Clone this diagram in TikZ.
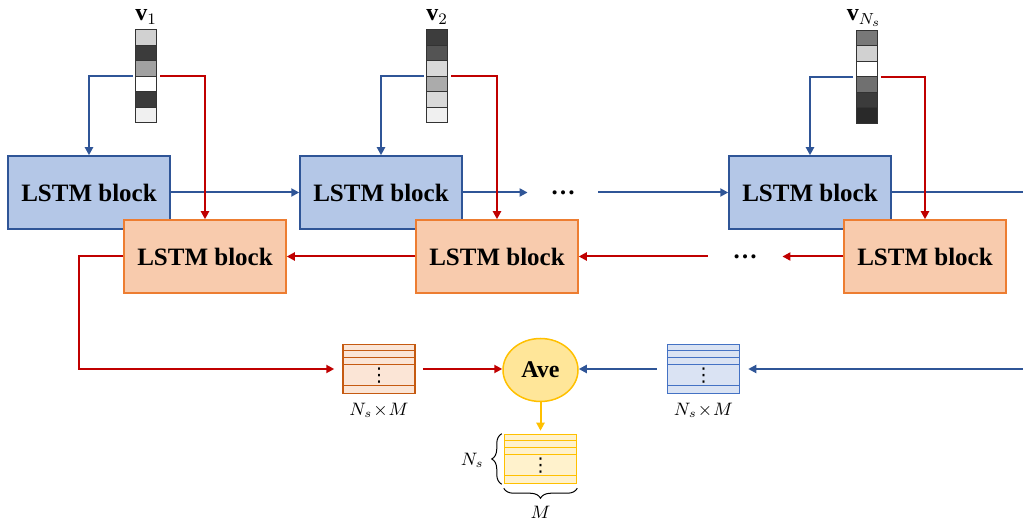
\documentclass[tikz,border=0pt]{standalone}
\usepackage{fontspec}
\setmainfont{Liberation Serif}
\newfontfamily\dejavu{DejaVu Sans}
\usetikzlibrary{arrows.meta,calc,shapes.geometric,decorations.pathreplacing}

\definecolor{bfill}{HTML}{B4C7E7}
\definecolor{bdraw}{HTML}{2F5597}
\definecolor{ofill}{HTML}{F8CBAD}
\definecolor{odraw}{HTML}{ED7D31}
\definecolor{redar}{HTML}{C00000}
\definecolor{mofill}{HTML}{FBE5D6}
\definecolor{modraw}{HTML}{C55A11}
\definecolor{mbfill}{HTML}{DAE3F3}
\definecolor{mbdraw}{HTML}{4472C4}
\definecolor{yfill}{HTML}{FFE699}
\definecolor{ydraw}{HTML}{FFC000}
\definecolor{myfill}{HTML}{FFF2CC}

\begin{document}
\begin{tikzpicture}[x=0.5pt,y=-0.5pt,
 lstm/.style={rectangle, minimum width=81pt, minimum height=36.5pt, inner sep=0pt, line width=0.75pt, font=\fontsize{12.5}{15}\selectfont\bfseries},
 lstmb/.style={lstm, fill=bfill, draw=bdraw},
 lstmo/.style={lstm, fill=ofill, draw=odraw},
 tip/.style={-{Triangle[length=4pt,width=4pt]}},
 barr/.style={draw=bdraw, line width=1pt},
 rarr/.style={draw=redar, line width=1pt},
 yarr/.style={draw=ydraw, line width=1pt},
 vec/.style={rectangle, minimum width=10.5pt, minimum height=46.5pt, inner sep=0pt},
 cell/.style={draw=black!80, line width=0.5pt},
 mat/.style={rectangle, minimum width=36pt, minimum height=24.5pt, inner sep=0pt, line width=0.75pt},
 vdot/.style={inner sep=0pt, font=\dejavu\fontsize{9.5}{10}\selectfont},
 dotsnode/.style={font=\fontsize{12.5}{15}\selectfont\bfseries, inner ysep=0pt},
 lab/.style={font=\fontsize{9}{11}\selectfont, inner sep=0pt},
 vlab/.style={font=\fontsize{12}{14}\selectfont, inner sep=0pt, anchor=base},
 brc/.style={decorate, line width=0.5pt, draw=black},
]
\useasboundingbox (0,0) rectangle (1023,523);

% input vectors
\node[vec] (v1) at (146.5,76.5) {};
\node[vec] (v2) at (437.5,76.5) {};
\node[vec] (v3) at (867,77) {};
\foreach \g [count=\i from 0] in {18,77,37,0,77,6}
  \draw[cell, fill=black!\g] ($(v1.north west)+(0,\i*15.5)$) rectangle ++(21,15.5);
\foreach \g [count=\i from 0] in {76,67,15,33,15,6}
  \draw[cell, fill=black!\g] ($(v2.north west)+(0,\i*15.5)$) rectangle ++(21,15.5);
\foreach \g [count=\i from 0] in {53,18,0,56,77,84}
  \draw[cell, fill=black!\g] ($(v3.north west)+(0,\i*15.5)$) rectangle ++(21,15.5);
\node[vlab] (l1) at (146,21) {$\mathbf{v}_1$};
\node[vlab] (l2) at (437,21) {$\mathbf{v}_2$};
\node[vlab] (l3) at (864,21) {$\mathbf{v}_{N_s}$};

% forward LSTM blocks
\node[lstmb] (b1) at (89,192.5) {LSTM block};
\node[lstmb] (b2) at (381,192.5) {LSTM block};
\node[lstmb] (b3) at (810,192.5) {LSTM block};
\node[dotsnode, inner xsep=11.25pt] (db) at (563,192.5) {…};
\coordinate (rout) at (1023,192.5);

\draw[barr, tip] ($(v1.west)+(-3,0)$) -| (b1.north);
\draw[barr, tip] ($(v2.west)+(-3,0)$) -| (b2.north);
\draw[barr, tip] ($(v3.west)+(-3,0)$) -| (b3.north);
\draw[barr, tip] (b1.east) -- (b2.west);
\draw[barr, tip] (b2.east) -- (db.west);
\draw[barr, tip] (db.east) -- (b3.west);
\draw[barr] (b3.east) -- (rout);

% backward LSTM blocks
\node[lstmo] (o1) at (205,256.5) {LSTM block};
\node[lstmo] (o2) at (497,256.5) {LSTM block};
\node[lstmo] (o3) at (925,256.5) {LSTM block};
\node[dotsnode, inner xsep=12.25pt] (dr) at (745,256.5) {…};

\draw[rarr, tip] ($(v1.east)+(3,0)$) -| (o1.north);
\draw[rarr, tip] ($(v2.east)+(3,0)$) -| (o2.north);
\draw[rarr, tip] ($(v3.east)+(3,0)$) -| (o3.north);
\draw[rarr, tip] (o3.west) -- (dr.east);
\draw[rarr, tip] (dr.west) -- (o2.east);
\draw[rarr, tip] (o2.west) -- (o1.east);

% output matrices
\node[mat, fill=mofill, draw=modraw] (m1) at (379,369) {};
\node[mat, fill=mbfill, draw=mbdraw] (m2) at (703.5,369) {};
\node[mat, fill=myfill, draw=ydraw] (m3) at (540.5,459) {};
\foreach \m/\c in {m1/modraw, m2/mbdraw, m3/ydraw}
  \foreach \o in {7,14,21,42}
    \draw[\c, line width=0.75pt] ($(\m.north west)+(0,\o)$) -- ($(\m.north east)+(0,\o)$);
\node[vdot] (d1) at ($(m1.north)+(0,31.5)$) {⋮};
\node[vdot] (d2) at ($(m2.north)+(0,31.5)$) {⋮};
\node[vdot] (d3) at ($(m3.north)+(0,31.5)$) {⋮};
\node[lab] (n1) at (379,410) {$N_s\!\times\! M$};
\node[lab] (n2) at (703.5,410) {$N_s\!\times\! M$};

\node[ellipse, minimum width=37.5pt, minimum height=31.5pt, inner sep=0pt, fill=yfill, draw=ydraw, line width=0.75pt, font=\fontsize{12}{14}\selectfont\bfseries] (ave) at (540.5,370) {Ave};

\coordinate (rin) at (1023,369);
\draw[rarr, tip, shorten >=4pt] (o1.west) -- ++(-44,0) |- (m1.west);
\draw[rarr, tip, shorten <=3.5pt] (m1.east) -- (m1.east -| ave.west);
\draw[barr, tip, shorten >=4pt] (rin) -- (m2.east);
\draw[barr, tip, shorten <=5pt] (m2.west) -- (m2.west -| ave.east);
\draw[yarr, tip, shorten >=1.5pt] (ave.south) -- (m3.north);

% braces
\draw[brc, decoration={brace, amplitude=5pt}] ($(m3.south west)+(-2,0)$) -- ($(m3.north west)+(-2,0)$);
\draw[brc, decoration={brace, amplitude=5pt}] ($(m3.south east)+(0,4)$) -- ($(m3.south west)+(0,4)$);
\node[lab, anchor=east] (ns) at (484,460) {$N_s$};
\node[lab] (mm) at (540.5,512) {$M$};
\end{tikzpicture}
\end{document}
